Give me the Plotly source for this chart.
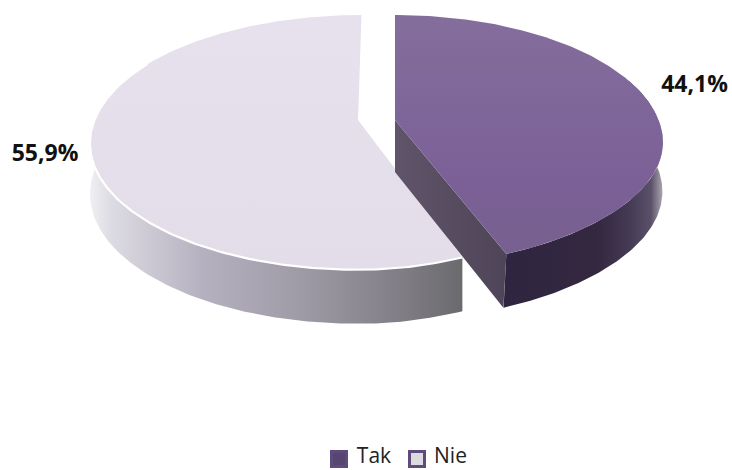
import numpy as np
import plotly.graph_objects as go

categories = ["Tak", "Nie"]
shares = [44.1, 55.9]
legend_centers = ["#55456f", "#dcdade"]

K = 0.183
A = 263.5
B = 124.2
APEX_Y = 120.0


def project(theta_deg, cx, ys=1.0, xs=1.0):
    t = np.radians(np.asarray(theta_deg, dtype=float))
    u, v = np.sin(t), -np.cos(t)
    w = 1 - K * v
    dx = A * u / w
    dy = B * v / w
    fx = 1 - (1 - xs) * np.clip(v, 0, 1) ** 3
    dx = np.where(u > 0, dx * fx, dx)
    dy = np.where(dy > 0, dy * ys, dy)
    return cx + dx, APEX_Y + dy, v


def depth(v):
    return 50 + 4 * np.clip(v, 0, 1)


sweep_tak = shares[0] / sum(shares) * 360
fig = go.Figure()


def poly(x, y, stops, kind="horizontal", start=None, stop=None):
    fig.add_trace(go.Scatter(
        x=np.asarray(x), y=np.asarray(y), mode="lines", fill="toself",
        line=dict(width=0), showlegend=False, hoverinfo="skip",
        fillgradient=dict(type=kind, colorscale=stops, start=start, stop=stop),
    ))


# --- Nie: wall, top, rim
th = np.linspace(sweep_tak, 360, 240)
cx_nie = 358
ax, ay, av = project(th, cx_nie, ys=0.985, xs=0.885)
mask = th <= 300
wx, wy, wv = ax[mask], ay[mask], av[mask]
poly(np.r_[wx, wx[::-1]], np.r_[wy, (wy + depth(wv))[::-1]],
     [[0, "#f0eff3"], [0.06, "#dcdae2"], [0.3, "#b6b1c0"], [0.6, "#9c98a3"], [0.85, "#7f7c84"], [1, "#6b6b6e"]],
     start=90, stop=461)
top_x = np.r_[cx_nie, ax + np.where(th > 300, 3.5 * (th - 300) / 60, 0)]
top_y = np.r_[APEX_Y, ay]
poly(top_x, top_y, [[0, "#e6e1ec"], [1, "#e2dde8"]], kind="vertical", start=15, stop=272)
fig.add_trace(go.Scatter(x=wx, y=wy, mode="lines", line=dict(color="white", width=2.2),
                         showlegend=False, hoverinfo="skip"))

# --- Tak: inner wall, outer wall, top
th = np.linspace(0, sweep_tak, 200)
cx_tak = 395
bx, by, bv = project(th, cx_tak, ys=0.96, xs=0.96)
tipx, tipy, tipv = bx[-1], by[-1], bv[-1]
poly([cx_tak, tipx, tipx - 3, cx_tak],
     [APEX_Y, tipy, tipy + depth(tipv), APEX_Y + 52],
     [[0, "#5f5469"], [1, "#4f4558"]], start=395, stop=506)
mask = th >= 70
ox, oy, ov = bx[mask], by[mask], bv[mask]
poly(np.r_[ox, ox[::-1] - 3 * np.clip(ov[::-1], 0, 1)], np.r_[oy, (oy + depth(ov))[::-1]],
     [[0, "#2f2540"], [0.6, "#33283f"], [0.8, "#463b56"], [0.93, "#5a5068"], [1, "#a5a2aa"]],
     start=503, stop=662)
poly(np.r_[cx_tak, bx], np.r_[APEX_Y, by],
     [[0, "#846e9c"], [0.7, "#7b6097"], [1, "#77608f"]], kind="vertical", start=13, stop=255)

# --- data labels
for name, share, lx, ly in zip(categories, shares, [694.5, 45], [86, 155]):
    fig.add_trace(go.Scatter(
        x=[lx], y=[ly], mode="text", text=[f"{share:.1f}%".replace(".", ",")],
        textfont=dict(family="Open Sans", size=23, color="#111111", weight="bold"),
        showlegend=False, hoverinfo="skip",
    ))

# --- legend keys, placed as marks so the plot area keeps its full size
for name, col, mx, tx in zip(categories, legend_centers, [339, 417], [374, 450.5]):
    fig.add_trace(go.Scatter(
        x=[mx], y=[459], mode="markers", showlegend=False, hoverinfo="skip",
        marker=dict(symbol="square", size=15, color=col, line=dict(color="#5f4a7d", width=3)),
    ))
    fig.add_trace(go.Scatter(
        x=[tx], y=[458], mode="text", text=[name], showlegend=False, hoverinfo="skip",
        textfont=dict(family="Open Sans", size=21, color="#222222"),
    ))

fig.update_layout(
    width=732, height=470, margin=dict(l=0, r=0, t=0, b=0),
    paper_bgcolor="white", plot_bgcolor="white", showlegend=False,
    xaxis=dict(range=[0, 732], visible=False, fixedrange=True),
    yaxis=dict(range=[470, 0], visible=False, fixedrange=True),
)
fig.write_html("out.html", config=dict(displayModeBar=False),
               post_script="document.body.style.margin='0';")
